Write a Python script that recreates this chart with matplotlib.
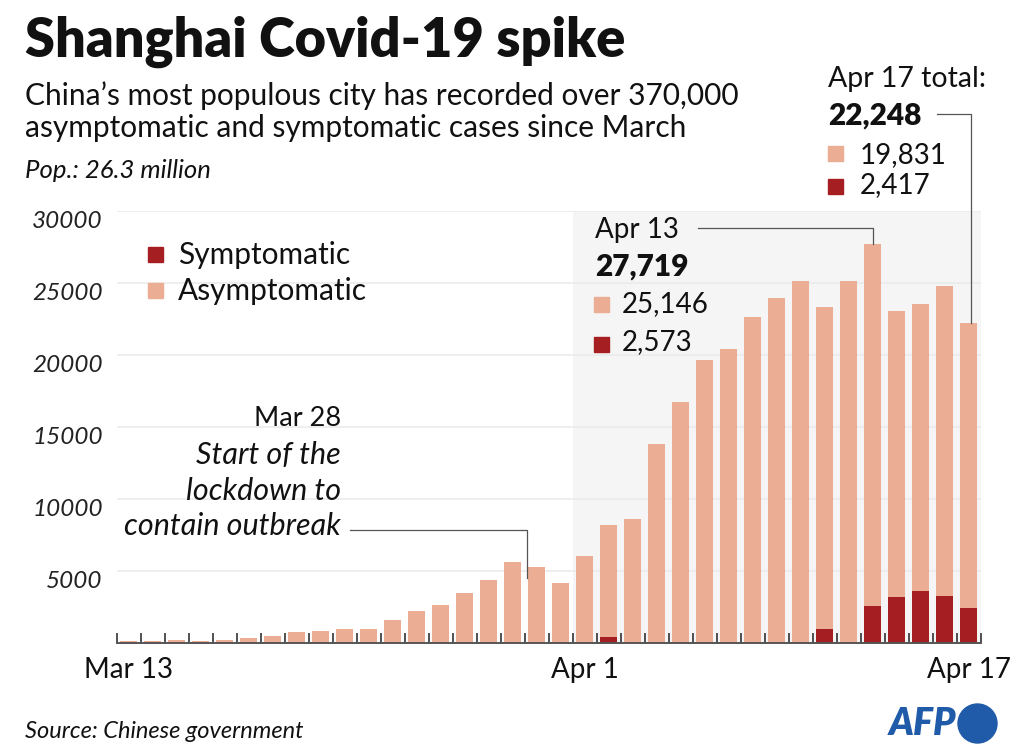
import matplotlib
matplotlib.use("Agg")
import matplotlib.pyplot as plt
from matplotlib.patches import Ellipse, Rectangle
import pandas as pd

plt.rcParams['font.family'] = ['Lato', 'DejaVu Sans']

# daily new cases, Shanghai, Mar 13 - Apr 17 2022
days = pd.date_range("2022-03-13", "2022-04-17")
asymptomatic = [128, 130, 197, 150, 203, 366, 492, 734, 865, 977, 979, 1580,
                2231, 2631, 3450, 4381, 5656, 5298, 4144, 6051, 7788, 8581,
                13800, 16766, 19660, 20398, 22609, 23937, 25173, 22348, 25141,
                25146, 19872, 19923, 21582, 19831]
symptomatic = [0, 0, 0, 0, 0, 0, 0, 0, 0, 0, 0, 0,
               0, 0, 0, 0, 0, 0, 0, 0, 438, 0,
               0, 0, 0, 0, 0, 0, 0, 994, 0,
               2573, 3200, 3590, 3238, 2417]
label_days = ["Mar 13", "Apr 1", "Apr 17"]
yticks = [5000, 10000, 15000, 20000, 25000, 30000]

light = "#ebad93"
dark = "#a51f22"
line_c = "#555555"
ink = "#111111"
W, H = 1020, 754

def fp(x, y):
    # pixel position -> figure fraction
    return x / W, 1 - y / H

fig = plt.figure(figsize=(W / 100, H / 100), dpi=100)
ax = fig.add_axes([116.7 / W, 1 - 643 / H, 864 / W, 432 / H])

x = list(range(len(days)))
lab = [d.strftime("%b %-d") for d in days]
ax.bar(x, symptomatic, width=0.72, color=dark, zorder=2)
ax.bar(x, asymptomatic, width=0.72, bottom=symptomatic, color=light, zorder=2)

ax.axvspan(lab.index("Apr 1") - 0.5, len(days) - 0.5, color="#f5f5f5", zorder=0, lw=0)
ax.set_xlim(-0.5, len(days) - 0.5)
ax.set_ylim(0, 30000)

ax.set_yticks(yticks)
ax.set_yticklabels([str(v) for v in yticks], fontstyle="italic", fontsize=17.5, color="#222222")
plt.setp(ax.get_yticklabels(), va="top")
ax.tick_params(axis="y", length=0, pad=10)
ax.grid(axis="y", color="#ebebeb", lw=1.2, zorder=1)
ax.set_axisbelow(True)

ax.set_xticks([lab.index(l) for l in label_days])
ax.set_xticklabels(label_days, fontsize=20, color=ink)
ax.set_xticks([i - 0.5 for i in range(len(days) + 1)], minor=True)
ax.tick_params(axis="x", which="major", length=0, pad=10)
ax.tick_params(axis="x", which="minor", direction="in", length=7, width=1.2, color="#333333")

for s in ["top", "right", "left"]:
    ax.spines[s].set_visible(False)
ax.spines["bottom"].set_color(line_c)
ax.spines["bottom"].set_linewidth(1.4)

# titles
fig.text(*fp(25, 42), "Shanghai Covid-19 spike", fontsize=39, fontweight="heavy",
         va="center", ha="left", color=ink)
fig.text(*fp(25, 96), "China\u2019s most populous city has recorded over 370,000",
         fontsize=21.5, va="center", color=ink)
fig.text(*fp(25, 128), "asymptomatic and symptomatic cases since March",
         fontsize=21.5, va="center", color=ink)
fig.text(*fp(25, 170), "Pop.: 26.3 million", fontsize=18.5, fontstyle="italic",
         va="center", color=ink)

# legend
def square(px, py, c, size=15):
    fig.patches.append(Rectangle(fp(px, py + size / 2), size / W, size / H,
                                 transform=fig.transFigure, color=c))

square(148, 254, dark)
fig.text(*fp(178, 255), "Symptomatic", fontsize=21.5, va="center", color=ink)
square(148, 290, light)
fig.text(*fp(178, 291), "Asymptomatic", fontsize=21.5, va="center", color=ink)

# Mar 28 annotation
mar = ["Mar 28", "Start of the", "lockdown to", "contain outbreak"]
for i, t in enumerate(mar):
    fig.text(*fp(341, 419 + i * 35.8), t, fontsize=19.5 if i == 0 else 22, ha="right", va="center",
             fontstyle="normal" if i == 0 else "italic", color=ink)
ax.plot([9.22, 16.58, 16.58], [7863, 7863, 4540], color=line_c, lw=0.9, clip_on=False)

# Apr 13 annotation
i13 = lab.index("Apr 13")
tot13 = asymptomatic[i13] + symptomatic[i13]
fig.text(*fp(595, 230), "Apr 13", fontsize=20, va="center", color=ink)
fig.text(*fp(595, 267), f"{tot13:,}", fontsize=21.5, fontweight="heavy", va="center", color=ink)
square(594, 304, light)
fig.text(*fp(622, 304), f"{asymptomatic[i13]:,}", fontsize=20, va="center", color=ink)
square(594, 344, dark)
fig.text(*fp(622, 342), f"{symptomatic[i13]:,}", fontsize=20, va="center", color=ink)
ax.plot([23.71, i13, i13], [28840, 28840, tot13], color=line_c, lw=0.9, clip_on=False)

# Apr 17 annotation
i17 = lab.index("Apr 17")
tot17 = asymptomatic[i17] + symptomatic[i17]
fig.text(*fp(828, 79), "Apr 17 total:", fontsize=20.5, va="center", color=ink)
fig.text(*fp(828, 116), f"{tot17:,}", fontsize=21.5, fontweight="heavy", va="center", color=ink)
square(828, 153, light)
fig.text(*fp(860, 155), f"{asymptomatic[i17]:,}", fontsize=20, va="center", color=ink)
square(828, 186, dark)
fig.text(*fp(860, 185), f"{symptomatic[i17]:,}", fontsize=20, va="center", color=ink)
ax.plot([33.67, i17 + 0.08, i17 + 0.08], [36740, 36740, tot17], color=line_c, lw=0.9, clip_on=False)

# footer
fig.text(*fp(25, 731), "Source: Chinese government", fontsize=17, fontstyle="italic",
         va="center", color=ink)
blue = "#1f5ba8"
fig.text(*fp(956, 724), "AFP", fontsize=27, fontweight="heavy", fontstyle="italic",
         ha="right", va="center", color=blue)
fig.patches.append(Ellipse(fp(977.5, 723.5), 39 / W, 39 / H, transform=fig.transFigure, color=blue))

fig.savefig("out.png", dpi=100, facecolor="white")
